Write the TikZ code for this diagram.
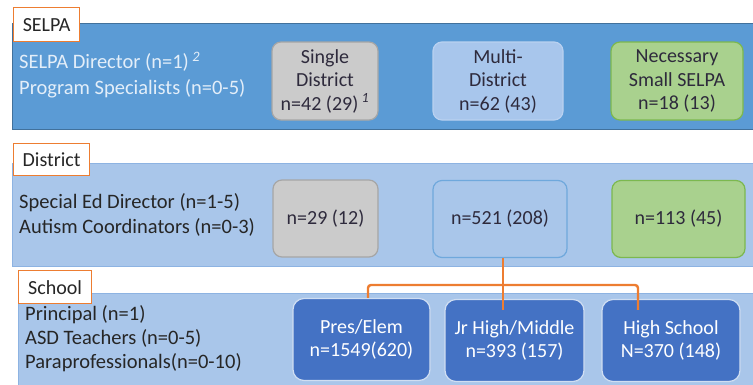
\documentclass[tikz,border=0pt]{standalone}
\usepackage{fontspec}
\setmainfont{Carlito}
\definecolor{selpablue}{HTML}{5B9BD5}
\definecolor{selpaedge}{HTML}{41719C}
\definecolor{staffwhite}{HTML}{E3EEF9}
\definecolor{taborange}{HTML}{ED7D31}
\definecolor{lightband}{HTML}{A9C6EA}
\definecolor{lightedge}{HTML}{8DB3E2}
\definecolor{unitgray}{HTML}{CBCBCB}
\definecolor{grayedge}{HTML}{A6A6A6}
\definecolor{multiblue}{HTML}{A8C6EC}
\definecolor{multiedge}{HTML}{B9D1F0}
\definecolor{smallgreen}{HTML}{A9D18E}
\definecolor{greenedge}{HTML}{7CB84F}
\definecolor{midedge}{HTML}{6FA8DC}
\definecolor{levelblue}{HTML}{4472C4}
\definecolor{leveledge}{HTML}{D0DEF2}
\definecolor{textdark}{HTML}{262626}
\definecolor{boxtext}{HTML}{2E2A3C}
\tikzset{
  band/.style={anchor=north west, inner sep=0pt, line width=1.2pt},
  tab/.style={draw=taborange, fill=white, line width=1.3pt, anchor=north west,
    inner xsep=4pt, text=textdark, font=\fontsize{20}{22}\selectfont},
  staff/.style={anchor=west, align=left, inner sep=0pt},
  unit/.style={rounded corners=9pt, align=center, text=boxtext, line width=1.2pt,
    minimum height=78pt, font=\fontsize{20}{23.5}\selectfont},
  level/.style={unit, rounded corners=11pt, fill=levelblue, draw=leveledge,
    text=white, minimum height=82pt},
  link/.style={draw=taborange, line width=2.4pt}
}
\begin{document}
\begin{tikzpicture}[x=1pt,y=-1pt]
\useasboundingbox (0,0) rectangle (753,384);

% the three levels
\node[band, fill=selpablue, draw=selpaedge, minimum width=760pt, minimum height=106pt] (selpa) at (12,23) {};
\node[band, fill=lightband, draw=lightedge, minimum width=760pt, minimum height=103pt] (district) at (12,163) {};
\node[band, fill=lightband, draw=lightedge, minimum width=760pt, minimum height=110pt] (school) at (18,293) {};

\node[tab, minimum width=66pt, minimum height=34pt] (selpatab) at (13,7) {SELPA};
\node[tab, minimum width=76pt, minimum height=32pt] (districttab) at (13,143) {District};
\node[tab, minimum width=73pt, minimum height=33pt] (schooltab) at (18,270) {School};

\node[staff, text=staffwhite, font=\fontsize{20.5}{26}\selectfont] (selpastaff) at (19,75)
  {SELPA Director (n=1)\,\textsuperscript{\textit{2}}\\Program Specialists (n=0-5)};
\node[staff, text=textdark, font=\fontsize{20.5}{25}\selectfont] (districtstaff) at (19,215)
  {Special Ed Director (n=1-5)\\Autism Coordinators (n=0-3)};
\node[staff, text=textdark, font=\fontsize{20.5}{24}\selectfont] (schoolstaff) at (25,339)
  {Principal (n=1)\\ASD Teachers (n=0-5)\\Paraprofessionals(n=0-10)};

% SELPA types
\node[unit, fill=unitgray, draw=grayedge, minimum width=106pt] (single) at (325,81)
  {Single\\District\\n=42 (29)\,\textsuperscript{\textit{1}}};
\node[unit, fill=multiblue, draw=multiedge, minimum width=130pt] (multi) at (498,81)
  {Multi-\\District\\n=62 (43)};
\node[unit, fill=smallgreen, draw=greenedge, minimum width=132pt] (small) at (677,81)
  {Necessary\\Small SELPA\\n=18 (13)};

% districts
\node[unit, fill=unitgray, draw=grayedge, minimum width=105pt, minimum height=77pt] (dsingle) at (325.5,218.5) {n=29 (12)};
\node[unit, fill=lightband, draw=midedge, minimum width=134pt, minimum height=77pt] (dmulti) at (500,219) {n=521 (208)};
\node[unit, fill=smallgreen, draw=greenedge, minimum width=133pt, minimum height=77pt] (dsmall) at (678.5,219) {n=113 (45)};

% schools
\node[level, minimum width=137pt] (pres) at (361.5,339.5) {Pres/Elem\\n=1549(620)};
\node[level, minimum width=139pt] (jrhigh) at (514.5,340.5) {Jr High/Middle\\n=393 (157)};
\node[level, minimum width=138pt] (high) at (671,340.5) {High School\\N=370 (148)};

\coordinate (split) at (503,285);
\draw[link, shorten >=-11pt] (split |- dmulti.south) -- (split |- jrhigh.north);
\draw[link, rounded corners=3pt, shorten >=-11pt] ([xshift=6.5pt]pres.north) |- (split) -| ([xshift=-33pt]high.north);

\end{tikzpicture}
\end{document}
